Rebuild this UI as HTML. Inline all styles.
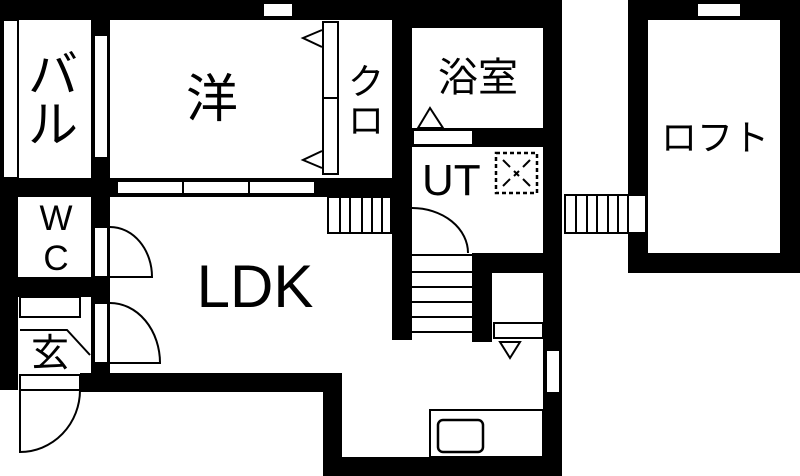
<!DOCTYPE html>
<html><head><meta charset="utf-8"><style>
html,body{margin:0;padding:0;background:#fff;}
svg{display:block;}
text{font-family:"Liberation Sans","Noto Sans CJK JP",sans-serif;fill:#000;}
</style></head><body>
<svg width="800" height="476" viewBox="0 0 800 476" xmlns="http://www.w3.org/2000/svg">
<g fill="#000">
<rect x="0" y="0" width="562" height="20"/>
<rect x="392" y="0" width="170" height="28"/>
<rect x="0" y="0" width="3" height="180"/>
<rect x="0" y="178" width="18" height="212"/>
<rect x="91" y="0" width="19" height="197"/>
<rect x="0" y="178" width="412" height="19"/>
<rect x="392" y="0" width="20" height="340"/>
<rect x="543" y="0" width="19" height="476"/>
<rect x="412" y="128" width="131" height="19"/>
<rect x="91" y="190" width="19" height="183"/>
<rect x="18" y="277" width="92" height="20"/>
<rect x="80" y="373" width="262" height="19"/>
<rect x="323" y="373" width="19" height="103"/>
<rect x="323" y="457" width="239" height="19"/>
<rect x="472" y="253" width="71" height="20"/>
<rect x="472" y="253" width="20" height="89"/>
<rect x="628" y="0" width="172" height="20"/>
<rect x="628" y="0" width="20" height="273"/>
<rect x="780" y="0" width="20" height="273"/>
<rect x="628" y="253" width="172" height="20"/>
</g>
<g fill="#fff" stroke="#000" stroke-width="2">
<rect x="263" y="3" width="30" height="14"/>
<rect x="697" y="3" width="44" height="14"/>
<rect x="3" y="20" width="15" height="158"/>
<rect x="94" y="35" width="14" height="123"/>
<rect x="117" y="181" width="198" height="13"/>
<rect x="323" y="22" width="15" height="76"/>
<rect x="323" y="98" width="15" height="76"/>
<rect x="413" y="130" width="60" height="15"/>
<rect x="94" y="227" width="14" height="50"/>
<rect x="94" y="303" width="14" height="60"/>
<rect x="20" y="297" width="60" height="20"/>
<rect x="20" y="375" width="60" height="15"/>
<rect x="494" y="323" width="49" height="15"/>
<rect x="546" y="350" width="14" height="43"/>
<rect x="628" y="195" width="18" height="38"/>
<rect x="430" y="410" width="113" height="47"/>
</g>
<g fill="none" stroke="#000" stroke-width="2">
<line x1="183" y1="181" x2="183" y2="194"/><line x1="249" y1="181" x2="249" y2="194"/>
<polyline points="322,30 303,38 322,47"/>
<polyline points="322,151 303,160 322,168"/>
<polygon points="418,128 430,108 443,128"/>
<polygon points="500,342 520,342 510,358"/>
<rect x="328" y="197" width="63" height="36"/>
<line x1="340" y1="197" x2="340" y2="233"/><line x1="350" y1="197" x2="350" y2="233"/><line x1="362" y1="197" x2="362" y2="233"/><line x1="372" y1="197" x2="372" y2="233"/><line x1="382" y1="197" x2="382" y2="233"/>
<rect x="565" y="195" width="81" height="38"/>
<line x1="576" y1="195" x2="576" y2="233"/><line x1="587" y1="195" x2="587" y2="233"/><line x1="597" y1="195" x2="597" y2="233"/><line x1="608" y1="195" x2="608" y2="233"/><line x1="618" y1="195" x2="618" y2="233"/><line x1="628" y1="195" x2="628" y2="233"/>
<line x1="412" y1="255" x2="472" y2="255"/><line x1="412" y1="272" x2="472" y2="272"/><line x1="412" y1="287" x2="472" y2="287"/><line x1="412" y1="302" x2="472" y2="302"/><line x1="412" y1="317" x2="472" y2="317"/><line x1="412" y1="332" x2="472" y2="332"/>
<path d="M412,208 A56,45 0 0 1 468,253"/>
<path d="M110,227 A42,50 0 0 1 152,277 L110,277"/>
<path d="M110,303 A50,60 0 0 1 160,363 L110,363"/>
<path d="M80,390 A60,62 0 0 1 20,452 L20,390"/>
<polyline points="20,330 67,330 90,355"/>
<rect x="496" y="153" width="41" height="40" stroke-dasharray="4,3" stroke-width="2.5"/>
<line x1="503" y1="160" x2="510" y2="167"/><line x1="530" y1="160" x2="523" y2="167"/><line x1="503" y1="186" x2="510" y2="179"/><line x1="530" y1="186" x2="523" y2="179"/>
<line x1="514" y1="171" x2="519" y2="176"/><line x1="519" y1="171" x2="514" y2="176"/>
<rect x="438" y="420" width="45" height="32" rx="5" stroke-width="2.5"/>
</g>
<text x="53" y="92" font-size="50" text-anchor="middle">バ</text>
<text x="53" y="142" font-size="50" text-anchor="middle">ル</text>
<text x="212" y="117" font-size="52" text-anchor="middle">洋</text>
<text x="366" y="94" font-size="36" text-anchor="middle">ク</text>
<text x="366" y="133" font-size="36" text-anchor="middle">ロ</text>
<text x="478" y="91" font-size="40" text-anchor="middle">浴室</text>
<text x="422" y="195" font-size="44">UT</text>
<text x="715" y="150" font-size="36" text-anchor="middle">ロフト</text>
<text x="255" y="307" font-size="60" text-anchor="middle">LDK</text>
<text x="56" y="230" font-size="35" text-anchor="middle">W</text>
<text x="56" y="270" font-size="35" text-anchor="middle">C</text>
<text x="50" y="366" font-size="38" text-anchor="middle">玄</text>
</svg>
</body></html>
